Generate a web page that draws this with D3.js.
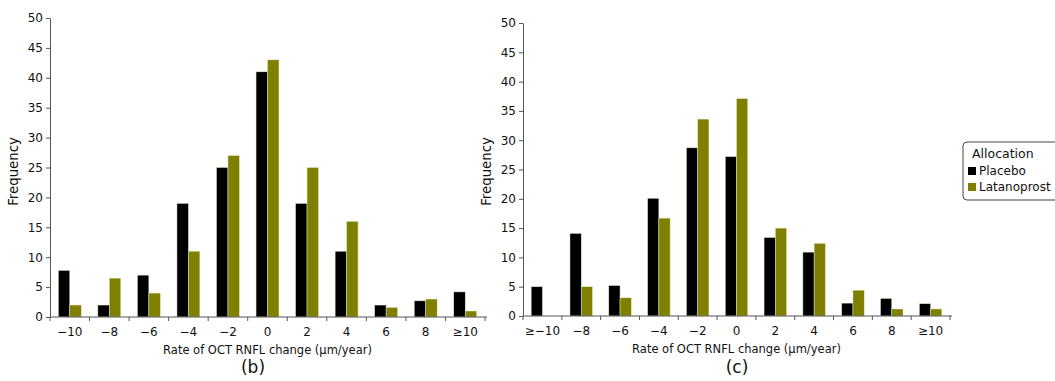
<!DOCTYPE html>
<html>
<head>
<meta charset="utf-8">
<script src="https://cdn.jsdelivr.net/npm/d3@7"></script>
<style>
  body { margin: 0; background: #fff; }
  text { font-family: "DejaVu Sans", sans-serif; fill: #111; }
  .axis path, .axis line { stroke: #555; }
  .axis text { font-size: 12px; font-family: "DejaVu Sans", sans-serif; fill: #111; }
</style>
</head>
<body>
<div id="chart"></div>
<script>
// categories
var catsB = ["\u221210", "\u22128", "\u22126", "\u22124", "\u22122", "0", "2", "4", "6", "8", "\u226510"];
var catsC = ["\u2265\u221210", "\u22128", "\u22126", "\u22124", "\u22122", "0", "2", "4", "6", "8", "\u226510"];

// series values
var placeboB     = [7.8, 2, 7, 19, 25, 41, 19, 11, 2, 2.7, 4.2];
var latanoprostB = [2, 6.5, 4, 11, 27, 43, 25, 16, 1.6, 3, 1];
var placeboC     = [5, 14.1, 5.2, 20.1, 28.7, 27.2, 13.4, 10.9, 2.2, 3, 2.1];
var latanoprostC = [0, 5, 3.1, 16.7, 33.6, 37.1, 15, 12.4, 4.4, 1.2, 1.2];

var seriesNames = ["Placebo", "Latanoprost"];
var yTicks = [0, 5, 10, 15, 20, 25, 30, 35, 40, 45, 50];

var colors = {Placebo: "#000000", Latanoprost: "#7f7f00"};

var svgWidth = 1055;
var svgHeight = 381;

var svg = d3.select("#chart")
  .append("svg")
  .attr("width", svgWidth)
  .attr("height", svgHeight);

function drawPanel(cfg) {
  var width = cfg.x1 - cfg.x0;
  var height = cfg.yBottom - cfg.yTop;

  var g = svg.append("g")
    .attr("transform", `translate(${cfg.x0}, ${cfg.yTop})`);

  var x = d3.scaleBand()
    .domain(cfg.cats)
    .range([0, width])
    .padding(0);

  var xInner = d3.scaleBand()
    .domain(seriesNames)
    .range([x.bandwidth() * 0.21, x.bandwidth() * 0.79]);

  var y = d3.scaleLinear()
    .domain([0, 50])
    .range([height, 0]);

  // bars
  var rows = cfg.cats.map(function(c, i) {
    return {cat: c, Placebo: cfg.placebo[i], Latanoprost: cfg.latanoprost[i]};
  });

  g.selectAll(".grp")
    .data(rows)
    .enter()
    .append("g")
    .attr("transform", d => `translate(${x(d.cat)}, 0)`)
    .selectAll("rect")
    .data(d => seriesNames.map(s => ({key: s, value: d[s]})))
    .enter()
    .append("rect")
    .attr("x", d => xInner(d.key))
    .attr("width", xInner.bandwidth())
    .attr("y", d => y(d.value))
    .attr("height", d => height - y(d.value))
    .attr("fill", d => colors[d.key])
    .attr("stroke", "#e8e8c8")
    .attr("stroke-width", 0.5);

  // x axis: ticks at category boundaries, labels centred
  var xAxis = g.append("g")
    .attr("class", "axis")
    .attr("transform", `translate(0, ${height})`)
    .call(d3.axisBottom(x).tickSizeOuter(0).tickSize(4).tickPadding(6));
  xAxis.selectAll(".tick line")
    .attr("x1", -x.bandwidth() / 2)
    .attr("x2", -x.bandwidth() / 2);
  xAxis.append("line")
    .attr("x1", width).attr("x2", width)
    .attr("y1", 0).attr("y2", 4)
    .attr("stroke", "#555");
  xAxis.select(".domain").attr("d", `M0,0H${width + 2}`);

  // y axis
  g.append("g")
    .attr("class", "axis")
    .call(d3.axisLeft(y).tickValues(yTicks).tickSize(4).tickPadding(3).tickSizeOuter(0));

  // axis titles
  g.append("text")
    .attr("transform", "rotate(-90)")
    .attr("x", -height / 2 - cfg.yTitleShift)
    .attr("y", cfg.yTitleX - cfg.x0)
    .attr("text-anchor", "middle")
    .style("font-size", "13.3px")
    .text("Frequency");

  g.append("text")
    .attr("x", width / 2)
    .attr("y", height + 36.5)
    .attr("text-anchor", "middle")
    .style("font-size", "11.5px")
    .text("Rate of OCT RNFL change (\u03bcm/year)");

  g.append("text")
    .attr("x", cfg.labelX - cfg.x0)
    .attr("y", 373 - cfg.yTop)
    .attr("text-anchor", "middle")
    .style("font-size", "17px")
    .text(cfg.label);
}

drawPanel({x0: 50, x1: 485, yTop: 18, yBottom: 317, yTitleX: 18, yTitleShift: 4,
  cats: catsB, placebo: placeboB, latanoprost: latanoprostB, label: "(b)", labelX: 253});
drawPanel({x0: 523, x1: 950, yTop: 23, yBottom: 316, yTitleX: 491, yTitleShift: 2,
  cats: catsC, placebo: placeboC, latanoprost: latanoprostC, label: "(c)", labelX: 737});

// legend
var legend = svg.append("g").attr("transform", "translate(963, 142)");
legend.append("rect")
  .attr("width", 100).attr("height", 58)
  .attr("rx", 4)
  .attr("fill", "#fff")
  .attr("stroke", "#444")
  .attr("stroke-width", 1);
legend.append("text")
  .attr("x", 9).attr("y", 16)
  .style("font-size", "12.5px")
  .text("Allocation");
legend.selectAll(".item")
  .data(seriesNames)
  .enter()
  .append("g")
  .attr("transform", (d, i) => `translate(5, ${28 + i * 16})`)
  .each(function(d) {
    var it = d3.select(this);
    it.append("rect").attr("width", 8).attr("height", 8).attr("y", -3).attr("fill", colors[d]);
    it.append("text").attr("x", 11).attr("y", 5).style("font-size", "12px").text(d);
  });
</script>
</body>
</html>
